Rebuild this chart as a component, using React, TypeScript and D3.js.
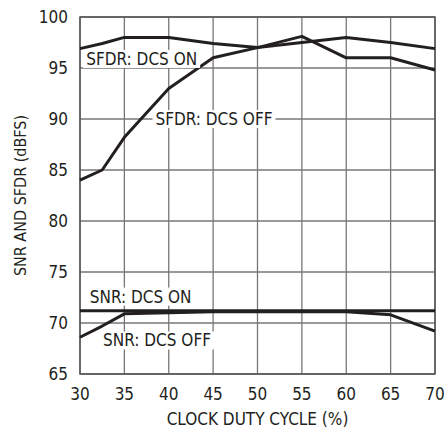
import React, { useEffect, useRef } from 'react';
import * as d3 from 'd3';

const dutyCycle = [30, 32.5, 35, 40, 45, 50, 55, 60, 65, 70];
const sfdrOn = [96.9, 97.4, 98.0, 98.0, 97.4, 97.0, 97.5, 98.0, 97.5, 96.9];
const sfdrOff = [84.0, 85.0, 88.2, 93.0, 96.0, 97.0, 98.1, 96.0, 96.0, 94.8];
const snrOn = [71.2, 71.2, 71.2, 71.2, 71.2, 71.2, 71.2, 71.2, 71.2, 71.2];
const snrOff = [68.6, 69.7, 70.9, 71.0, 71.1, 71.1, 71.1, 71.1, 70.8, 69.2];

const xTicks = [30, 35, 40, 45, 50, 55, 60, 65, 70];
const yTicks = [65, 70, 75, 80, 85, 90, 95, 100];

const labels = [
  { text: 'SFDR: DCS ON', x: 30.7, y: 95.3 },
  { text: 'SFDR: DCS OFF', x: 38.5, y: 89.4 },
  { text: 'SNR: DCS ON', x: 31.1, y: 72.0 },
  { text: 'SNR: DCS OFF', x: 32.6, y: 67.7 },
];

const FONT = "'Liberation Sans Narrow', 'DejaVu Sans Condensed', 'Roboto Condensed', sans-serif";

const App: React.FC = () => {
  const ref = useRef<SVGSVGElement | null>(null);

  useEffect(() => {
    if (!ref.current) return;
    const width = 447;
    const height = 430;
    const margin = { top: 17, right: 12, bottom: 56, left: 80 };

    const svg = d3.select(ref.current);
    svg.selectAll('*').remove();
    svg.attr('width', width).attr('height', height);

    const x = d3.scaleLinear().domain([30, 70]).range([margin.left, width - margin.right]);
    const y = d3.scaleLinear().domain([65, 100]).range([height - margin.bottom, margin.top]);

    // grid
    svg.append('g')
      .selectAll('line')
      .data(xTicks)
      .enter()
      .append('line')
      .attr('x1', d => x(d)).attr('x2', d => x(d))
      .attr('y1', y(65)).attr('y2', y(100))
      .attr('stroke', '#777').attr('stroke-width', 1.3);

    svg.append('g')
      .selectAll('line')
      .data(yTicks)
      .enter()
      .append('line')
      .attr('x1', x(30)).attr('x2', x(70))
      .attr('y1', d => y(d)).attr('y2', d => y(d))
      .attr('stroke', '#777').attr('stroke-width', 1.3);

    svg.append('rect')
      .attr('x', x(30)).attr('y', y(100))
      .attr('width', x(70) - x(30)).attr('height', y(65) - y(100))
      .attr('fill', 'none').attr('stroke', '#555').attr('stroke-width', 1.5);

    // tick labels
    svg.append('g')
      .selectAll('text')
      .data(yTicks)
      .enter()
      .append('text')
      .attr('x', x(30) - 12)
      .attr('y', d => y(d) + 6)
      .attr('text-anchor', 'end')
      .attr('font-family', FONT)
      .attr('font-size', 17)
      .attr('fill', '#231f20')
      .text(d => d);

    svg.append('g')
      .selectAll('text')
      .data(xTicks)
      .enter()
      .append('text')
      .attr('x', d => x(d))
      .attr('y', y(65) + 26)
      .attr('text-anchor', 'middle')
      .attr('font-family', FONT)
      .attr('font-size', 17)
      .attr('fill', '#231f20')
      .text(d => d);

    svg.append('text')
      .attr('x', (x(30) + x(70)) / 2)
      .attr('y', height - 5)
      .attr('text-anchor', 'middle')
      .attr('font-family', FONT)
      .attr('font-size', 17)
      .attr('fill', '#231f20')
      .text('CLOCK DUTY CYCLE (%)');

    svg.append('text')
      .attr('transform', `translate(26,${(y(65) + y(100)) / 2}) rotate(-90)`)
      .attr('text-anchor', 'middle')
      .attr('font-family', FONT)
      .attr('font-size', 16)
      .attr('fill', '#231f20')
      .text('SNR AND SFDR (dBFS)');

    // series
    const line = d3.line<number>()
      .x((_, i) => x(dutyCycle[i]))
      .y(d => y(d));

    [sfdrOn, sfdrOff, snrOn, snrOff].forEach(series => {
      svg.append('path')
        .datum(series)
        .attr('d', line)
        .attr('fill', 'none')
        .attr('stroke', '#231f20')
        .attr('stroke-width', 3)
        .attr('stroke-linejoin', 'round');
    });

    // labels with white boxes
    labels.forEach(l => {
      const g = svg.append('g');
      const t = g.append('text')
        .attr('x', x(l.x))
        .attr('y', y(l.y))
        .attr('font-family', FONT)
        .attr('font-size', 17)
        .attr('fill', '#231f20')
        .text(l.text);
      const bb = (t.node() as SVGTextElement).getBBox();
      g.insert('rect', 'text')
        .attr('x', bb.x - 3).attr('y', bb.y + 1)
        .attr('width', bb.width + 6).attr('height', bb.height - 2)
        .attr('fill', '#fff');
    });
  }, []);

  return <svg ref={ref} style={{ position: 'absolute', left: 0, top: 0 }}></svg>;
};

export default App;
